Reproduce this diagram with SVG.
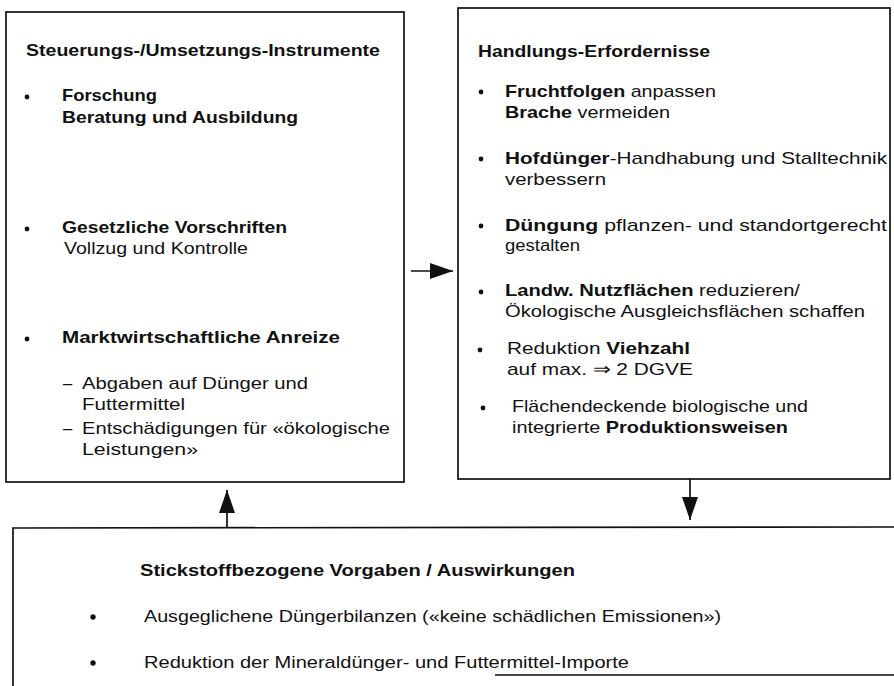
<svg xmlns="http://www.w3.org/2000/svg" width="894" height="686" viewBox="0 0 894 686">
<style>
text{font-family:"Liberation Sans",Arial,sans-serif;font-size:16.6px;fill:#111;}
.b{font-weight:700;}
.box{fill:none;stroke:#111;stroke-width:1.7;}
.con{fill:none;stroke:#111;stroke-width:1.7;}
.dot{fill:#111;}
</style>
<defs>
<marker id="ah" markerUnits="userSpaceOnUse" markerWidth="24" markerHeight="16" refX="23" refY="8" orient="auto">
<path d="M0,0 L23,8 L0,16 z" fill="#111"/>
</marker>
</defs>
<rect width="894" height="686" fill="#fff"/>

<g id="instrumente">
<rect class="box" x="6" y="12" width="398" height="470"/>
<text class="b" x="26" y="56" textLength="354" lengthAdjust="spacingAndGlyphs">Steuerungs-/Umsetzungs-Instrumente</text>
<circle class="dot" cx="27" cy="97" r="2.4"/>
<text class="b" x="62" y="101" textLength="95" lengthAdjust="spacingAndGlyphs">Forschung</text>
<text class="b" x="62" y="123" textLength="236" lengthAdjust="spacingAndGlyphs">Beratung und Ausbildung</text>
<circle class="dot" cx="27" cy="229" r="2.4"/>
<text class="b" x="62" y="233" textLength="225" lengthAdjust="spacingAndGlyphs">Gesetzliche Vorschriften</text>
<text x="64" y="254" textLength="184" lengthAdjust="spacingAndGlyphs">Vollzug und Kontrolle</text>
<circle class="dot" cx="27" cy="339" r="2.4"/>
<text class="b" x="62" y="343" textLength="278" lengthAdjust="spacingAndGlyphs">Marktwirtschaftliche  Anreize</text>
<text x="63" y="389">–</text>
<text x="82" y="389" textLength="226" lengthAdjust="spacingAndGlyphs">Abgaben auf Dünger und</text>
<text x="82" y="410" textLength="103" lengthAdjust="spacingAndGlyphs">Futtermittel</text>
<text x="63" y="434">–</text>
<text x="82" y="434" textLength="308" lengthAdjust="spacingAndGlyphs">Entschädigungen für «ökologische</text>
<text x="82" y="455" textLength="116" lengthAdjust="spacingAndGlyphs">Leistungen»</text>
</g>

<g id="erfordernisse">
<rect class="box" x="458" y="8" width="432" height="471"/>
<text class="b" x="478" y="57" textLength="232" lengthAdjust="spacingAndGlyphs">Handlungs-Erfordernisse</text>
<circle class="dot" cx="481" cy="92" r="2.4"/>
<text x="505" y="97" textLength="211" lengthAdjust="spacingAndGlyphs"><tspan class="b">Fruchtfolgen</tspan> anpassen</text>
<text x="505" y="118" textLength="165" lengthAdjust="spacingAndGlyphs"><tspan class="b">Brache</tspan> vermeiden</text>
<circle class="dot" cx="481" cy="159" r="2.4"/>
<text x="505" y="164" textLength="382" lengthAdjust="spacingAndGlyphs"><tspan class="b">Hofdünger</tspan>-Handhabung und Stalltechnik</text>
<text x="505" y="185" textLength="101" lengthAdjust="spacingAndGlyphs">verbessern</text>
<circle class="dot" cx="481" cy="226" r="2.4"/>
<text x="505" y="231" textLength="382" lengthAdjust="spacingAndGlyphs"><tspan class="b">Düngung</tspan> pflanzen- und  standortgerecht</text>
<text x="505" y="251" textLength="75" lengthAdjust="spacingAndGlyphs">gestalten</text>
<circle class="dot" cx="481" cy="292" r="2.4"/>
<text x="505" y="296" textLength="295" lengthAdjust="spacingAndGlyphs"><tspan class="b">Landw.  Nutzflächen</tspan> reduzieren/</text>
<text x="505" y="317" textLength="360" lengthAdjust="spacingAndGlyphs">Ökologische Ausgleichsflächen schaffen</text>
<circle class="dot" cx="480" cy="350" r="2.4"/>
<text x="507" y="354" textLength="183" lengthAdjust="spacingAndGlyphs">Reduktion  <tspan class="b">Viehzahl</tspan></text>
<text x="507" y="375" textLength="186" lengthAdjust="spacingAndGlyphs">auf max.  ⇒  2 DGVE</text>
<circle class="dot" cx="483" cy="408" r="2.4"/>
<text x="512" y="412" textLength="296" lengthAdjust="spacingAndGlyphs">Flächendeckende biologische und</text>
<text x="512" y="433" textLength="276" lengthAdjust="spacingAndGlyphs">integrierte <tspan class="b">Produktionsweisen</tspan></text>
</g>

<g id="vorgaben">
<path class="box" d="M894,527 L13,528 L13,686 M495,675 L894,675"/>
<text class="b" x="140" y="576" textLength="435" lengthAdjust="spacingAndGlyphs">Stickstoffbezogene Vorgaben / Auswirkungen</text>
<circle class="dot" cx="93" cy="617" r="2.7"/>
<text x="144" y="622" textLength="577" lengthAdjust="spacingAndGlyphs">Ausgeglichene Düngerbilanzen («keine schädlichen Emissionen»)</text>
<circle class="dot" cx="93" cy="663" r="2.7"/>
<text x="144" y="668" textLength="485" lengthAdjust="spacingAndGlyphs">Reduktion der Mineraldünger- und Futtermittel-Importe</text>
</g>

<g id="connectors">
<line class="con" x1="411" y1="271" x2="453" y2="271" marker-end="url(#ah)"/>
<line class="con" x1="227" y1="527" x2="227" y2="490" marker-end="url(#ah)"/>
<line class="con" x1="690" y1="479" x2="690" y2="520" marker-end="url(#ah)"/>
</g>
</svg>
